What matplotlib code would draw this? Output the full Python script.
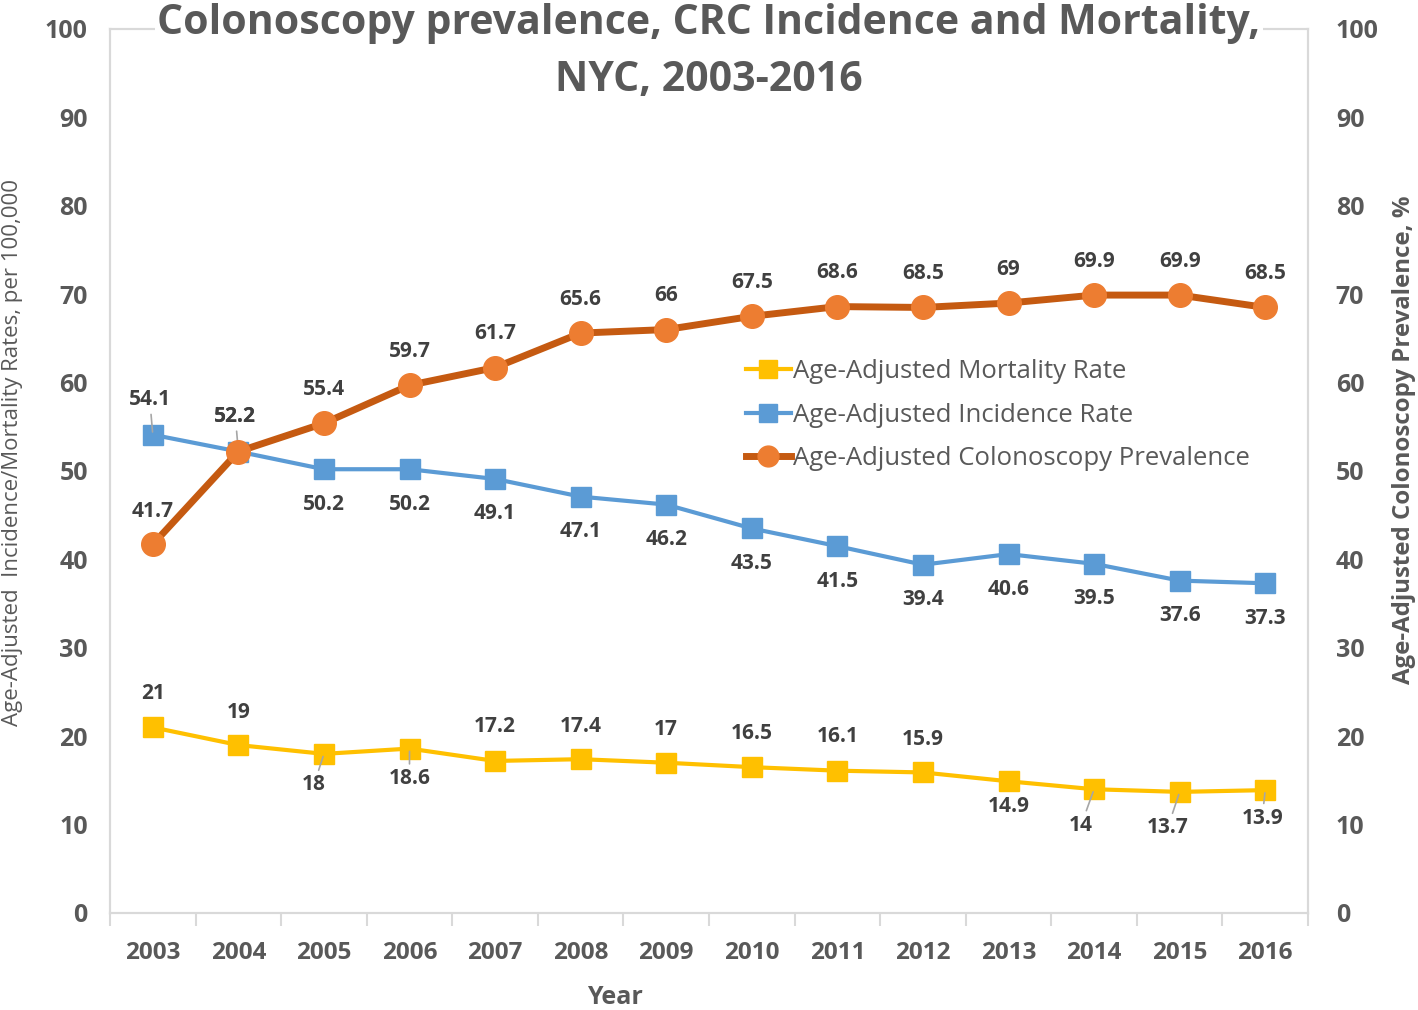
import numpy as np
import matplotlib.pyplot as plt
from matplotlib.lines import Line2D

# --- data ---
years = ["2003", "2004", "2005", "2006", "2007", "2008", "2009",
         "2010", "2011", "2012", "2013", "2014", "2015", "2016"]
mortality = [21, 19, 18, 18.6, 17.2, 17.4, 17, 16.5, 16.1, 15.9, 14.9, 14, 13.7, 13.9]
incidence = [54.1, 52.2, 50.2, 50.2, 49.1, 47.1, 46.2, 43.5, 41.5, 39.4, 40.6, 39.5, 37.6, 37.3]
colonoscopy = [41.7, 52.2, 55.4, 59.7, 61.7, 65.6, 66, 67.5, 68.6, 68.5, 69, 69.9, 69.9, 68.5]

# label placement (pixel offsets dx, dy and whether a leader line is drawn)
mort_lab = [(0, 34, 0), (0, 33, 0), (-10, -31, 1), (0, -30, 1), (0, 34, 0), (0, 33, 0), (0, 33, 0),
            (0, 34, 0), (0, 34, 0), (0, 33, 0), (0, -25, 0), (-13, -36, 1), (-12, -36, 1), (-3, -28, 1)]
inc_lab = [(-3, 35, 1), (-3, 35, 1)] + [(0, -35, 0)] * 12
col_lab = [(0, 33, 0), (-3, 35, 0)] + [(0, 34, 0)] * 12

FONT = "Open Sans"
GRAY = "#595959"
LAB = "#404040"
SPINE = "#D9D9D9"

plt.rcParams['font.family'] = [FONT, 'DejaVu Sans']

fig = plt.figure(figsize=(14.18, 10.10), dpi=100)
ax = fig.add_axes([110 / 1418, 97 / 1010, 1198 / 1418, 884 / 1010])
ax2 = ax.twinx()

x = np.arange(len(years))

ax.plot(x, mortality, color="#FFC000", lw=3, marker="s", ms=15, zorder=3)
ax.plot(x, incidence, color="#5B9BD5", lw=3, marker="s", ms=15, zorder=3)
ax2.plot(x, colonoscopy, color="#C55A11", lw=5, marker="o", ms=17,
         mfc="#ED7D31", mec="#ED7D31", zorder=3)


def put_labels(a, vals, offs):
    for i, (v, (dx, dy, lead)) in enumerate(zip(vals, offs)):
        kw = {}
        if lead:
            kw['arrowprops'] = dict(arrowstyle='-', color='#A6A6A6', lw=1.2,
                                    shrinkA=1, shrinkB=2)
        a.annotate(f"{v:g}", (x[i], v), xytext=(dx, dy), textcoords='offset pixels',
                   ha='center', va='center', fontsize=15, fontweight='bold',
                   color=LAB, zorder=5, **kw)


put_labels(ax, mortality, mort_lab)
put_labels(ax, incidence, inc_lab)
put_labels(ax2, colonoscopy, col_lab)

for a in (ax, ax2):
    a.set_ylim(0, 100)
    a.set_xlim(-0.5, len(years) - 0.5)
    a.set_yticks(np.arange(0, 101, 10))
    for s in a.spines.values():
        s.set_color(SPINE)
        s.set_linewidth(1.5)

ax.tick_params(axis='y', length=0, pad=16, labelsize=18, labelcolor=GRAY)
ax2.tick_params(axis='y', length=0, pad=20, labelsize=18, labelcolor=GRAY)
for t in ax.get_yticklabels() + ax2.get_yticklabels():
    t.set_fontweight('bold')

ax.set_xticks(x)
ax.set_xticklabels(years, fontsize=17.5, fontweight='bold', color=GRAY)
ax.set_xticks(np.arange(-0.5, len(years)), minor=True)
ax.tick_params(axis='x', which='major', length=0, pad=20)
ax.tick_params(axis='x', which='minor', length=9, width=1.5, color=SPINE)

# axis titles
fig.text(13 / 1418, 1 - 452 / 1010, "Age-Adjusted  Incidence/Mortality Rates, per 100,000",
         rotation=90, ha='center', va='center', fontsize=16, color=GRAY)
fig.text(1404 / 1418, 1 - 440 / 1010, "Age-Adjusted Colonoscopy Prevalence, %",
         rotation=90, ha='center', va='center', fontsize=17.3, fontweight='bold', color=GRAY)
fig.text(615 / 1418, 1 - 997 / 1010, "Year", ha='center', va='center',
         fontsize=18, fontweight='bold', color=GRAY)

fig.text(0.5, 1 - 23 / 1010, "Colonoscopy prevalence, CRC Incidence and Mortality,",
         ha='center', va='center', fontsize=29.5, fontweight='bold', color=GRAY,
         bbox=dict(fc='white', ec='none', pad=2), zorder=10)
fig.text(0.5, 1 - 80 / 1010, "NYC, 2003-2016",
         ha='center', va='center', fontsize=29.5, fontweight='bold', color=GRAY, zorder=10)

handles = [
    Line2D([], [], color="#FFC000", lw=3, marker="s", ms=13),
    Line2D([], [], color="#5B9BD5", lw=3, marker="s", ms=13),
    Line2D([], [], color="#C55A11", lw=5, marker="o", ms=15, mfc="#ED7D31", mec="#ED7D31"),
]
names = ["Age-Adjusted Mortality Rate", "Age-Adjusted Incidence Rate",
         "Age-Adjusted Colonoscopy Prevalence"]
leg = ax2.legend(handles, names, loc='upper left',
                 bbox_to_anchor=(733 / 1418, 1 - 346 / 1010), bbox_transform=fig.transFigure,
                 frameon=False, fontsize=18.5, handlelength=1.75, handletextpad=0.08,
                 labelspacing=0.73, borderpad=0)
for t in leg.get_texts():
    t.set_color(GRAY)

fig.savefig("out.png", dpi=100)
